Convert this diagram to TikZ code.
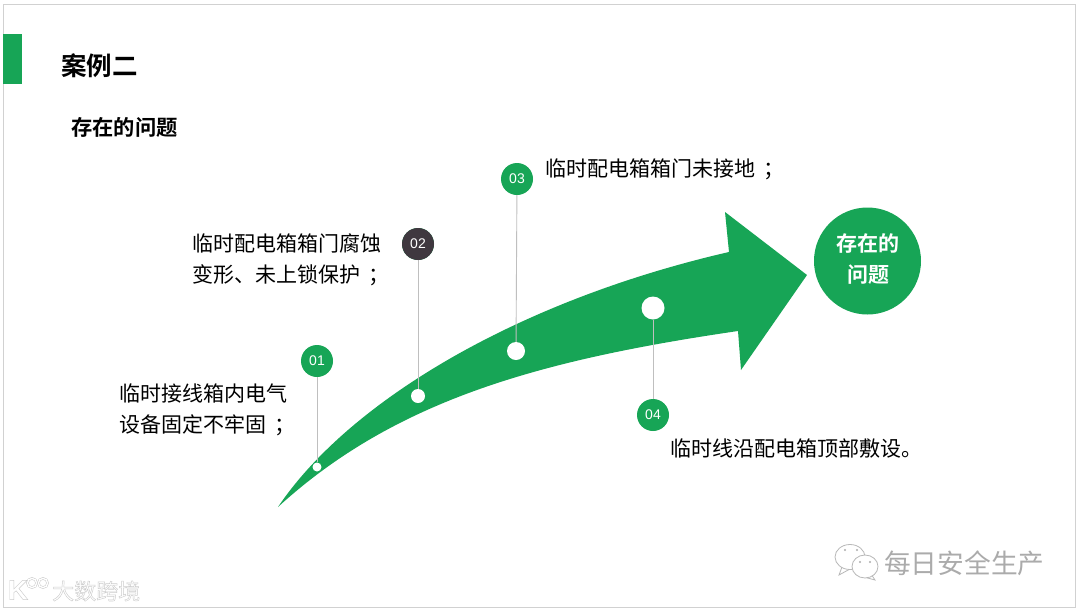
\documentclass[tikz,border=0pt]{standalone}
\usepackage{fontspec}
\setmainfont{Noto Sans CJK SC}[BoldFont={Noto Sans CJK SC Bold}]
\newfontfamily\numfont{Liberation Sans}
\usepackage{tikz}
\usetikzlibrary{positioning}
\definecolor{arrowgreen}{HTML}{17A556}
\definecolor{darkdot}{HTML}{3F383F}
\newcommand{\semi}{\hspace{8pt}；}
% White letters with a grey rim
\newcommand{\rimtext}[1]{\special{pdf:code 2 Tr 0.8 G 0.45 w}#1\special{pdf:code 0 Tr 0 G 1 w}}
\tikzset{
    numdot/.style={circle,fill=arrowgreen,minimum size=32pt,inner sep=0pt,text=white,font=\numfont\fontsize{14}{14}\selectfont},
    holedot/.style={circle,fill=white,inner sep=0pt},
    leadline/.style={draw=black!25,line width=0.9pt},
    bodytext/.style={anchor=west,align=left,inner sep=0pt,font=\fontsize{21}{31}\selectfont},
    marktext/.style={inner sep=0pt,anchor=west,font=\fontsize{26.7}{26.7}\selectfont},
    bubble/.style={draw=black!28,line width=0.8pt,fill=white},
}
\begin{document}
\begin{tikzpicture}[x=1pt,y=-1pt]
    \useasboundingbox (0,0) rectangle (1080,611);
    % Slide frame
    \fill[white] (0,0) rectangle (1080,611);
    \draw[black!18,line width=1pt] (3,4) rectangle (1075,607);
    % Title bar
    \fill[arrowgreen] (3,34) rectangle (22,84);
    \node[bodytext,font=\bfseries\fontsize{25.5}{25.5}\selectfont] (title) at (61,66) {案例二};
    \node[bodytext,font=\bfseries\fontsize{21.3}{21.3}\selectfont] (subtitle) at (71,127.5) {存在的问题};
    % Curved arrow
    \fill[arrowgreen] (278,507) .. controls (350,400) and (520,300) .. (729,252)
        -- (725,212) -- (807,275) -- (741,370) -- (738,331)
        .. controls (540,360) and (395,400) .. (278,507) -- cycle;
    % Numbered dots with their lead lines
    \foreach \name/\x/\y/\hx/\hy/\hsize in {01/317/361/317/467/9pt,02/418/244/418/396/14pt,03/517/179/516/351/18pt,04/653/415/653/308/23pt} {
        \node[holedot,minimum size=\hsize] (hole\name) at (\hx,\hy) {};
        \node[numdot] (dot\name) at (\x,\y) {\name};
        \draw[leadline] (dot\name) -- (hole\name);
    }
    \node[numdot,fill=darkdot] (dot02) at (418,244) {02};
    % Labels
    \node[bodytext] (text01) at (119.5,409.5) {临时接线箱内电气\\设备固定不牢固\semi};
    \node[bodytext] (text02) at (192.5,260) {临时配电箱箱门腐蚀\\变形、未上锁保护\semi};
    \node[bodytext] (text03) at (545.5,169) {临时配电箱箱门未接地\semi};
    \node[bodytext] (text04) at (670.5,449) {临时线沿配电箱顶部敷设。};
    % Big circle
    \node[circle,fill=arrowgreen,minimum size=107pt,inner sep=0pt,text=white,align=center,
        font=\bfseries\fontsize{21}{31}\selectfont] (goal) at (867.5,261) {};
    \node[inner sep=0pt,text=white,align=center,font=\bfseries\fontsize{21}{31}\selectfont] (goaltext) at (868,259.5) {存在的\\问题};
    % Watermark, lower right
    \node[marktext,text=black!33] (mark) at (884,563) {每日安全生产};
    \draw[bubble] (842,567) -- (839,575) -- (850,569);
    \draw[bubble] (850,557) ellipse (15pt and 12.5pt);
    \draw[bubble] (871,574) -- (875,580) -- (864,577);
    \draw[bubble] (865,566.5) ellipse (13pt and 11.5pt);
    \foreach \x/\y in {845/550,857/550,860/562,870/562} {
        \fill[black!32] (\x,\y) circle (1.2pt);
    }
    % Watermark, lower left
    \node[marktext,text=white,font=\fontsize{22}{22}\selectfont] (logo) at (52,591) {\rimtext{大数跨境}};
    \node[inner sep=0pt,text=white,font=\numfont\bfseries\fontsize{28}{28}\selectfont] (kmark) at (18,590) {\rimtext{K}};
    \foreach \x in {32,43} {
        \draw[black!22,line width=2.4pt] (\x,583) circle (4.6pt);
        \draw[white,line width=1.4pt] (\x,583) circle (4.6pt);
    }
\end{tikzpicture}
\end{document}
